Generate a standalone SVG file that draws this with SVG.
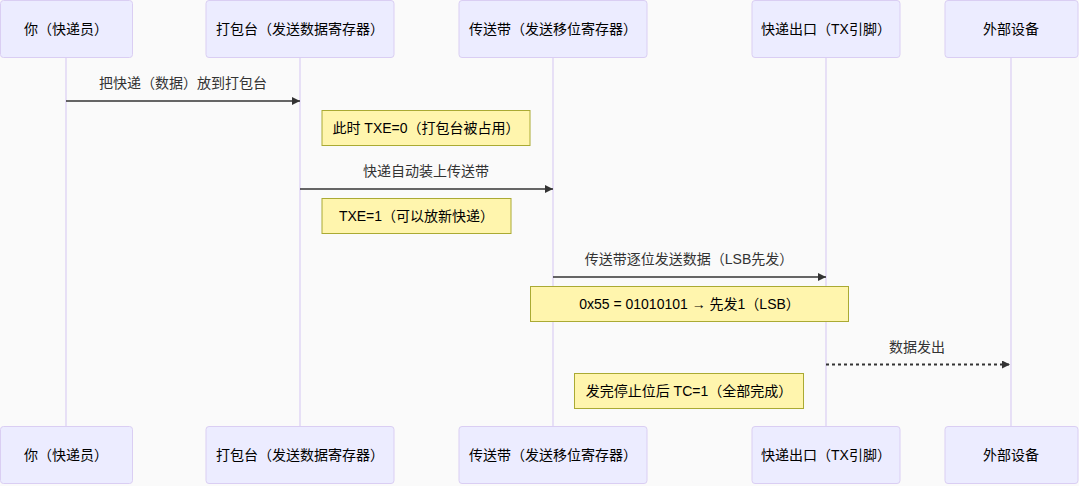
<svg xmlns="http://www.w3.org/2000/svg" width="1079" height="486" viewBox="0 0 1079 486">
<style>
text{font-family:"Liberation Sans","Noto Sans CJK SC",sans-serif;font-size:14px;text-anchor:middle;dominant-baseline:central}
.actor{fill:#ececff;stroke:#dacef3;stroke-width:1}
.actor-t{fill:#000}
.life{stroke:#dacef3;stroke-width:1.2}
.note{fill:#fff5ad;stroke:#aaaa33;stroke-width:1}
.note-t{fill:#000}
.msg{stroke:#333;stroke-width:1.5;fill:none}
.dot{stroke-dasharray:3,3;stroke-width:2}
.msg-t{fill:#333}
</style>
<defs>
<marker id="arr" viewBox="0 0 10 10" refX="10" refY="5" markerWidth="10" markerHeight="8" markerUnits="userSpaceOnUse" orient="auto">
<path d="M0,0 L10,5 L0,10 z" fill="#333"/>
</marker>
</defs>
<rect width="1079" height="486" fill="#fafafa"/>
<g id="lifelines">
<line class="life" x1="66" y1="58" x2="66" y2="426"/>
<line class="life" x1="300" y1="58" x2="300" y2="426"/>
<line class="life" x1="553" y1="58" x2="553" y2="426"/>
<line class="life" x1="826" y1="58" x2="826" y2="426"/>
<line class="life" x1="1011" y1="58" x2="1011" y2="426"/>
</g>
<g id="actor-courier">
<rect class="actor" x="0.5" y="0.5" width="132" height="57" rx="3"/>
<text class="actor-t" x="66" y="29">你（快递员）</text>
<rect class="actor" x="0.5" y="426.5" width="132" height="57" rx="3"/>
<text class="actor-t" x="66" y="455">你（快递员）</text>
</g>
<g id="actor-tdr">
<rect class="actor" x="206" y="0.5" width="188" height="57" rx="3"/>
<text class="actor-t" x="300" y="29">打包台（发送数据寄存器）</text>
<rect class="actor" x="206" y="426.5" width="188" height="57" rx="3"/>
<text class="actor-t" x="300" y="455">打包台（发送数据寄存器）</text>
</g>
<g id="actor-tsr">
<rect class="actor" x="459" y="0.5" width="188" height="57" rx="3"/>
<text class="actor-t" x="553" y="29">传送带（发送移位寄存器）</text>
<rect class="actor" x="459" y="426.5" width="188" height="57" rx="3"/>
<text class="actor-t" x="553" y="455">传送带（发送移位寄存器）</text>
</g>
<g id="actor-tx">
<rect class="actor" x="752" y="0.5" width="148" height="57" rx="3"/>
<text class="actor-t" x="826" y="29">快递出口（TX引脚）</text>
<rect class="actor" x="752" y="426.5" width="148" height="57" rx="3"/>
<text class="actor-t" x="826" y="455">快递出口（TX引脚）</text>
</g>
<g id="actor-ext">
<rect class="actor" x="945" y="0.5" width="133" height="57" rx="3"/>
<text class="actor-t" x="1011" y="29">外部设备</text>
<rect class="actor" x="945" y="426.5" width="133" height="57" rx="3"/>
<text class="actor-t" x="1011" y="455">外部设备</text>
</g>
<g id="connectors">
<line class="msg" x1="66" y1="101" x2="300" y2="101" marker-end="url(#arr)"/>
<text class="msg-t" x="183" y="83">把快递（数据）放到打包台</text>
<line class="msg" x1="300" y1="189" x2="553" y2="189" marker-end="url(#arr)"/>
<text class="msg-t" x="426" y="171">快递自动装上传送带</text>
<line class="msg" x1="553" y1="277" x2="826" y2="277" marker-end="url(#arr)"/>
<text class="msg-t" x="689" y="259">传送带逐位发送数据（LSB先发）</text>
<line class="msg dot" x1="826" y1="364.5" x2="1010" y2="364.5" marker-end="url(#arr)"/>
<text class="msg-t" x="917" y="347">数据发出</text>
</g>
<g id="note-txe0">
<rect class="note" x="322" y="110.5" width="208" height="35"/>
<text class="note-t" x="426" y="128">此时 TXE=0（打包台被占用）</text>
</g>
<g id="note-txe1">
<rect class="note" x="322" y="198.5" width="189" height="35"/>
<text class="note-t" x="416.5" y="216">TXE=1（可以放新快递）</text>
</g>
<g id="note-bits">
<rect class="note" x="530.5" y="286.5" width="318" height="35"/>
<text class="note-t" x="689.5" y="304">0x55 = 01010101 → 先发1（LSB）</text>
</g>
<g id="note-tc">
<rect class="note" x="574.5" y="373.5" width="229" height="35"/>
<text class="note-t" x="689" y="391">发完停止位后 TC=1（全部完成）</text>
</g>
</svg>
